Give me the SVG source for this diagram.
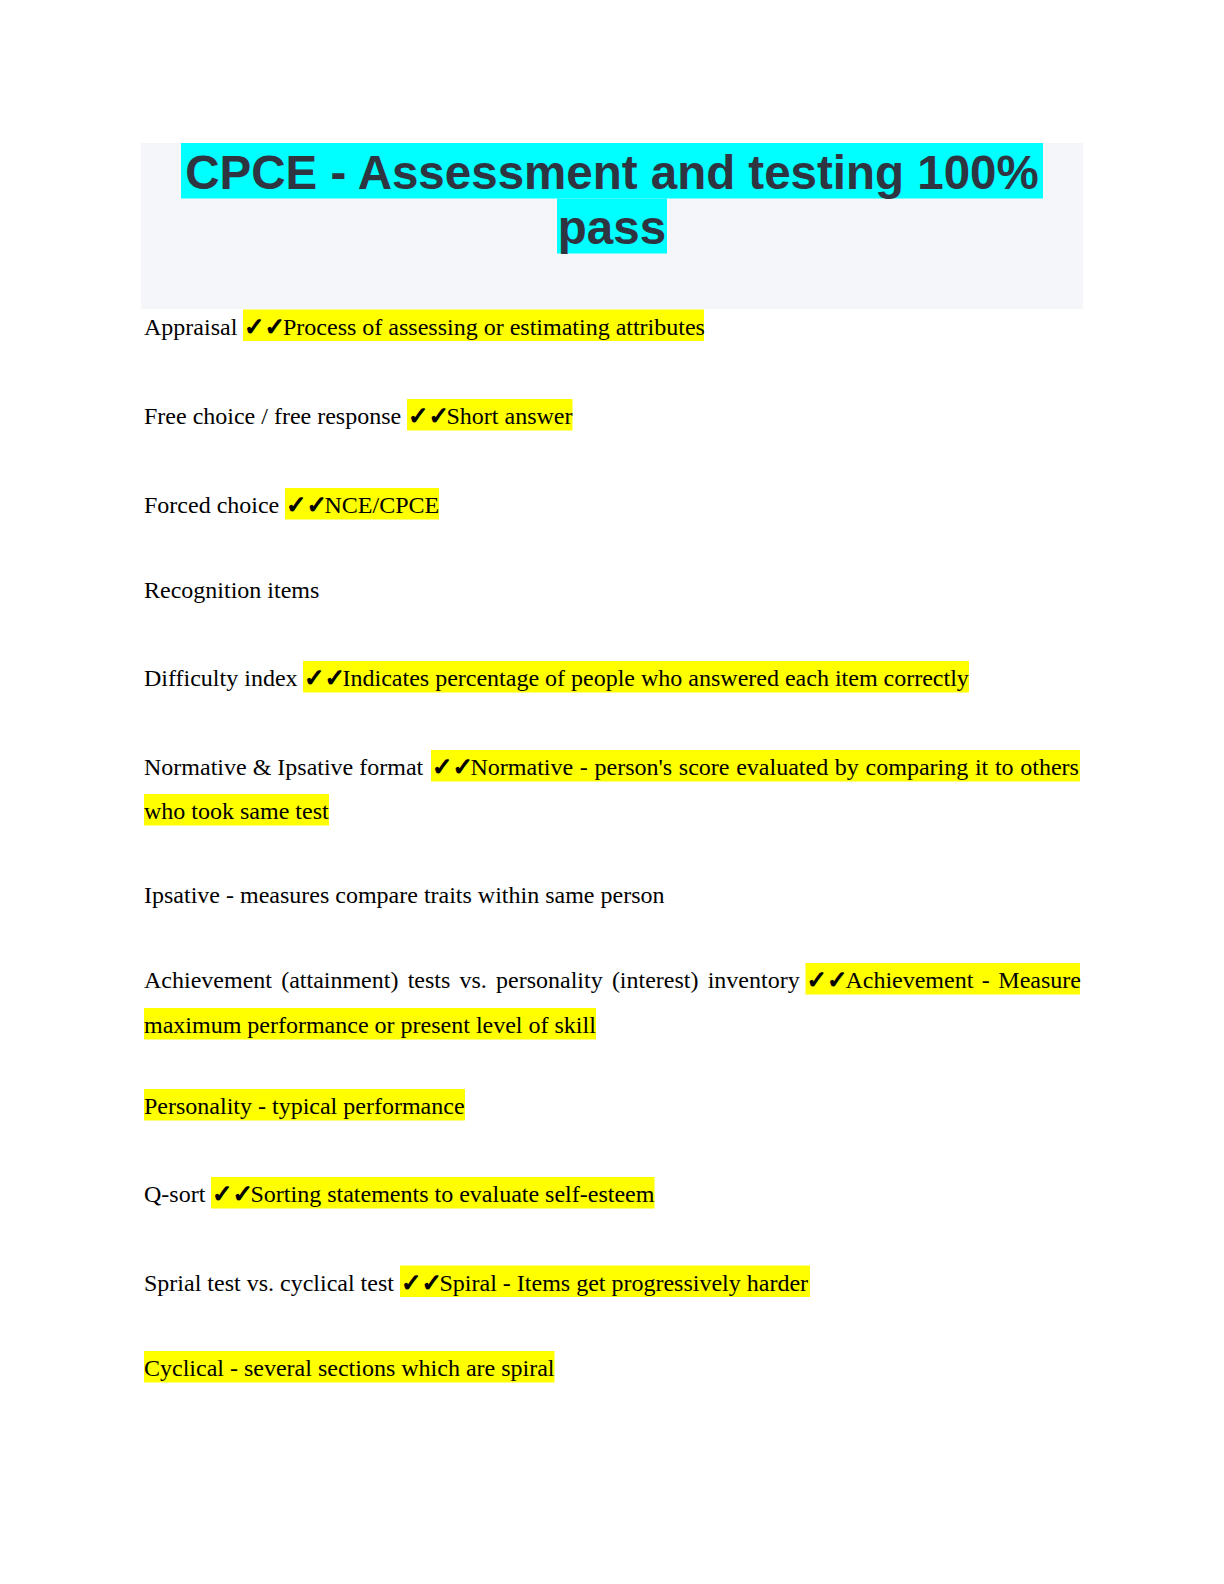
<svg xmlns="http://www.w3.org/2000/svg" width="1224" height="1584" viewBox="0 0 1224 1584">
<style>
.t{font-family:"Liberation Serif","Times New Roman",serif;font-size:24px;fill:#000}
.ck{font-family:"DejaVu Sans",sans-serif;font-size:24.5px;fill:#000;stroke:#000;stroke-width:1.2px}
.hl{fill:#ffff00}
.ttl{font-family:"Liberation Sans",Arial,sans-serif;font-weight:bold;font-size:47.5px;fill:#2f3441;text-anchor:middle}
</style>
<rect x="0" y="0" width="1224" height="1584" fill="#ffffff"/>
<g id="title">
<rect x="141" y="143" width="942" height="166" fill="#f5f6fa"/>
<rect x="181" y="143" width="862" height="55.5" fill="#00ffff"/>
<rect x="557" y="198.5" width="110" height="55" fill="#00ffff"/>
<text class="ttl" x="612" y="189">CPCE - Assessment and testing 100%</text>
<text class="ttl" x="612" y="244">pass</text>
</g>
<g id="appraisal">
<rect class="hl" x="243" y="309.5" width="461" height="31.5"/>
<text class="t" x="144" y="334.5">Appraisal <tspan class="ck" x="244">✓✓</tspan><tspan x="283">Process of assessing or estimating attributes</tspan></text>
</g>
<g id="free-choice">
<rect class="hl" x="407" y="399" width="165.5" height="31.5"/>
<text class="t" x="144" y="424">Free choice / free response <tspan class="ck" x="408">✓✓</tspan><tspan x="446.5">Short answer</tspan></text>
</g>
<g id="forced-choice">
<rect class="hl" x="285" y="488" width="154" height="31.5"/>
<text class="t" x="144" y="513">Forced choice <tspan class="ck" x="286">✓✓</tspan><tspan x="324.5">NCE/CPCE</tspan></text>
</g>
<g id="recognition">
<text class="t" x="144" y="598">Recognition items</text>
</g>
<g id="difficulty">
<rect class="hl" x="303" y="661" width="666" height="31.5"/>
<text class="t" x="144" y="686">Difficulty index <tspan class="ck" x="304">✓✓</tspan><tspan x="342.5">Indicates percentage of people who answered each item correctly</tspan></text>
</g>
<g id="normative">
<rect class="hl" x="431" y="750" width="649" height="31.5"/>
<rect class="hl" x="144" y="794" width="185" height="31.5"/>
<text class="t" x="144" y="775">Normative &amp; Ipsative format <tspan class="ck" x="432">✓✓</tspan><tspan x="470.5" word-spacing="0.7">Normative - person's score evaluated by comparing it to others</tspan></text>
<text class="t" x="144" y="819">who took same test</text>
</g>
<g id="ipsative">
<text class="t" x="144" y="902.5">Ipsative - measures compare traits within same person</text>
</g>
<g id="achievement">
<rect class="hl" x="805.5" y="963" width="274.5" height="31.5"/>
<rect class="hl" x="144" y="1008" width="452" height="31.5"/>
<text class="t" x="144" y="988"><tspan word-spacing="3.2">Achievement (attainment) tests vs. personality (interest) inventory</tspan><tspan class="ck" x="806.5">✓✓</tspan><tspan x="845.4" word-spacing="2.5">Achievement - Measure</tspan></text>
<text class="t" x="144" y="1033">maximum performance or present level of skill</text>
</g>
<g id="personality">
<rect class="hl" x="144" y="1089" width="321" height="31.5"/>
<text class="t" x="144" y="1114">Personality - typical performance</text>
</g>
<g id="q-sort">
<rect class="hl" x="211" y="1177" width="443.5" height="31.5"/>
<text class="t" x="144" y="1202">Q-sort <tspan class="ck" x="212">✓✓</tspan><tspan x="250.5">Sorting statements to evaluate self-esteem</tspan></text>
</g>
<g id="spiral">
<rect class="hl" x="400" y="1265.5" width="410" height="31.5"/>
<text class="t" x="144" y="1290.5">Sprial test vs. cyclical test <tspan class="ck" x="401">✓✓</tspan><tspan x="439.5">Spiral - Items get progressively harder</tspan></text>
</g>
<g id="cyclical">
<rect class="hl" x="144" y="1351" width="410.5" height="31.5"/>
<text class="t" x="144" y="1376">Cyclical - several sections which are spiral</text>
</g>
</svg>
